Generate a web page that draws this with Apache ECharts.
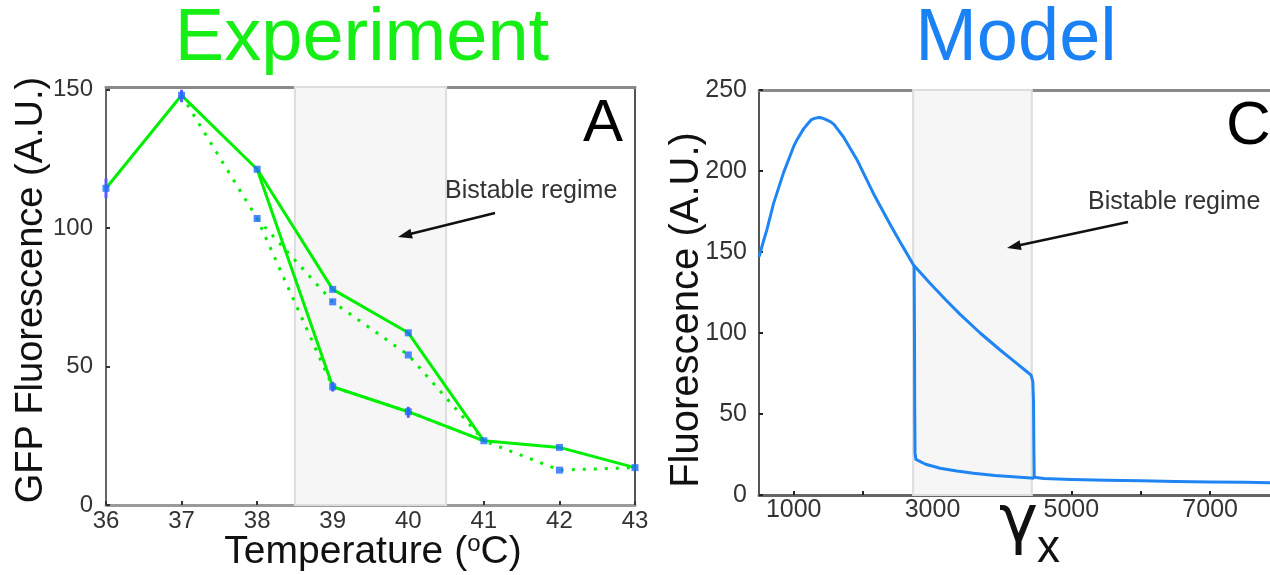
<!DOCTYPE html>
<html>
<head>
<meta charset="utf-8">
<script src="https://cdn.jsdelivr.net/npm/echarts@6/dist/echarts.min.js"></script>
<style>
html,body{margin:0;padding:0;background:#fff;}
#chart{width:1270px;height:575px;}
</style>
</head>
<body>
<div id="chart"></div>
<script>
// ---------------- DATA ----------------
// Experiment panel (temperature in °C, GFP fluorescence in A.U.)
const tempTicks = [36, 37, 38, 39, 40, 41, 42, 43];
const fluorTicks = [0, 50, 100, 150];
const solidUpperT = [36, 37, 38, 39, 40, 41, 42, 43];
const solidUpperF = [114.4, 148, 121.3, 77.9, 62.2, 23.2, 20.8, 13.5];
const solidLowerT = [38, 39, 40, 41];
const solidLowerF = [121.3, 42.7, 33.7, 23.2];
const dottedLowerT = [37, 38, 39, 40, 41, 42, 43];
const dottedLowerF = [148, 103.5, 42.7, 33.7, 23.2, 12.6, 13.5];
const dottedUpperT = [38, 39, 40, 41];
const dottedUpperF = [103.5, 73.4, 54.2, 23.2];
const markerT = [36, 37, 38, 38, 39, 39, 39, 40, 40, 40, 41, 42, 42, 43];
const markerF = [114.4, 148, 121.3, 103.5, 77.9, 73.4, 42.7, 62.2, 54.2, 33.7, 23.2, 20.8, 12.6, 13.5];
const errT  = [36, 37, 39, 40];
const errLo = [110.8, 145.5, 41, 31.5];
const errHi = [118, 150, 44.5, 35.5];
const bandExperiment = [38.5, 40.5];

// Model panel (gamma_x, fluorescence in A.U.)
const gammaTicks = [1000, 2000, 3000, 4000, 5000, 6000, 7000];
const gammaLabels = [1000, 3000, 5000, 7000];
const modelFluorTicks = [0, 50, 100, 150, 200, 250];
const upperGamma = [500, 560, 615, 710, 854, 998, 1050, 1142, 1200, 1250, 1300, 1358, 1400, 1450, 1527, 1580, 1620, 1718, 1911, 2150, 2390, 2535, 2631, 2726, 2967, 3182, 3398, 3686, 3974, 4190, 4334, 4420, 4445, 4455, 4460, 4465, 4600, 5000, 5500, 6000, 6500, 7000, 7500, 7862];
const upperF     = [147, 156, 164, 180, 199, 215, 219.5, 226, 229, 231.5, 232.5, 233, 232.8, 232, 230.5, 228.8, 226.5, 221, 207, 186, 167, 156, 149, 142, 130.5, 120.8, 111.5, 100, 89.5, 82, 77, 74, 70, 58, 30, 11, 10.2, 9.6, 9.1, 8.8, 8.3, 8, 7.8, 7.6];
const lowerGamma = [2735, 2740, 2744, 2748, 2760, 2900, 3110, 3350, 3590, 3900, 4262, 4465];
const lowerF     = [142, 100, 50, 26, 22, 19, 16.5, 14.8, 13.4, 12, 10.9, 10.3];
const bandModel = [2720, 4430];

// ---------------- HELPERS ----------------
const zip = (a, b) => a.map((v, i) => [v, b[i]]);
const FONT = '"Liberation Sans", Arial, Helvetica, sans-serif';
const GREEN = '#00f000';
const BLUE_MARK = '#1f6bff';
const BLUE_LINE = '#1f85f2';

const chart = echarts.init(document.getElementById('chart'), null, {renderer: 'canvas'});

const bandStyle = {color: '#f6f6f7', borderColor: '#dddddd', borderWidth: 2};

const option = {
  animation: false,
  backgroundColor: '#ffffff',
  grid: [
    {left: 106, top: 87, width: 529, height: 418},
    {left: 759, top: 90, width: 511, height: 405}
  ],
  xAxis: [
    {
      gridIndex: 0, type: 'value', min: 36, max: 43, interval: 1, position: 'bottom',
      axisLine: {show: true, onZero: false, lineStyle: {color: '#9a9a9a', width: 3}},
      axisTick: {show: true, inside: true, length: 4, lineStyle: {color: '#333', width: 2}},
      axisLabel: {fontSize: 24, color: '#333', margin: 4, fontFamily: FONT},
      splitLine: {show: false}
    },
    {
      gridIndex: 0, type: 'value', min: 36, max: 43, position: 'top',
      axisLine: {show: true, onZero: false, lineStyle: {color: '#8a8a8a', width: 3}},
      axisTick: {show: false}, axisLabel: {show: false}, splitLine: {show: false}
    },
    {
      gridIndex: 1, type: 'value', min: 500, max: 7862, position: 'bottom',
      axisLine: {show: true, onZero: false, lineStyle: {color: '#666', width: 3}},
      axisTick: {show: true, inside: true, length: 4, customValues: gammaTicks, lineStyle: {color: '#222', width: 2}},
      axisLabel: {fontSize: 25, color: '#333', margin: 3, fontFamily: FONT, customValues: gammaLabels,
        formatter: function (v) { return String(Math.round(v)); }},
      splitLine: {show: false}
    },
    {
      gridIndex: 1, type: 'value', min: 500, max: 7862, position: 'top',
      axisLine: {show: true, onZero: false, lineStyle: {color: '#8a8a8a', width: 3}},
      axisTick: {show: false}, axisLabel: {show: false}, splitLine: {show: false}
    }
  ],
  yAxis: [
    {
      gridIndex: 0, type: 'value', min: 0, max: 151, position: 'left',
      axisLine: {show: true, onZero: false, lineStyle: {color: '#666', width: 2}},
      axisTick: {show: true, inside: true, length: 4, customValues: fluorTicks, lineStyle: {color: '#333', width: 2}},
      axisLabel: {fontSize: 24, color: '#333', margin: 13, fontFamily: FONT, customValues: fluorTicks},
      splitLine: {show: false}
    },
    {
      gridIndex: 0, type: 'value', min: 0, max: 151, position: 'right',
      axisLine: {show: true, onZero: false, lineStyle: {color: '#555', width: 2}},
      axisTick: {show: false}, axisLabel: {show: false}, splitLine: {show: false}
    },
    {
      gridIndex: 1, type: 'value', min: 0, max: 250, interval: 50, position: 'left',
      axisLine: {show: true, onZero: false, lineStyle: {color: '#555', width: 2}},
      axisTick: {show: true, inside: true, length: 4, lineStyle: {color: '#222', width: 2}},
      axisLabel: {fontSize: 25, color: '#333', margin: 12, fontFamily: FONT},
      splitLine: {show: false}
    }
  ],
  series: [
    {
      name: 'band-exp', type: 'line', xAxisIndex: 0, yAxisIndex: 0, data: [], silent: true,
      markArea: {silent: true, itemStyle: bandStyle, data: [[{xAxis: bandExperiment[0]}, {xAxis: bandExperiment[1]}]]}
    },
    {
      name: 'dotted-lower', type: 'line', xAxisIndex: 0, yAxisIndex: 0, data: zip(dottedLowerT, dottedLowerF),
      symbol: 'none', lineStyle: {color: GREEN, width: 3, type: [3, 8], cap: 'butt'}, z: 3
    },
    {
      name: 'dotted-upper', type: 'line', xAxisIndex: 0, yAxisIndex: 0, data: zip(dottedUpperT, dottedUpperF),
      symbol: 'none', lineStyle: {color: GREEN, width: 3, type: [3, 8], cap: 'butt'}, z: 3
    },
    {
      name: 'solid-upper', type: 'line', xAxisIndex: 0, yAxisIndex: 0, data: zip(solidUpperT, solidUpperF),
      symbol: 'none', lineStyle: {color: GREEN, width: 3}, z: 4
    },
    {
      name: 'solid-lower', type: 'line', xAxisIndex: 0, yAxisIndex: 0, data: zip(solidLowerT, solidLowerF),
      symbol: 'none', lineStyle: {color: GREEN, width: 3}, z: 4
    },
    {
      name: 'err', type: 'custom', xAxisIndex: 0, yAxisIndex: 0, z: 5,
      data: errT.map((t, i) => [t, errLo[i], errHi[i]]),
      renderItem: function (params, api) {
        const p0 = api.coord([api.value(0), api.value(1)]);
        const p1 = api.coord([api.value(0), api.value(2)]);
        return {type: 'line', shape: {x1: p0[0], y1: p0[1], x2: p1[0], y2: p1[1]}, style: {stroke: '#5a5aff', lineWidth: 3}};
      }
    },
    {
      name: 'markers', type: 'scatter', xAxisIndex: 0, yAxisIndex: 0, data: zip(markerT, markerF),
      symbol: 'rect', symbolSize: [7, 7], itemStyle: {color: BLUE_MARK}, z: 6
    },
    {
      name: 'band-model', type: 'line', xAxisIndex: 2, yAxisIndex: 2, data: [], silent: true,
      markArea: {silent: true, itemStyle: bandStyle, data: [[{xAxis: bandModel[0]}, {xAxis: bandModel[1]}]]}
    },
    {
      name: 'model-upper', type: 'line', xAxisIndex: 2, yAxisIndex: 2, data: zip(upperGamma, upperF),
      symbol: 'none', lineStyle: {color: BLUE_LINE, width: 3, join: 'round'}, z: 4
    },
    {
      name: 'model-lower', type: 'line', xAxisIndex: 2, yAxisIndex: 2, data: zip(lowerGamma, lowerF),
      symbol: 'none', lineStyle: {color: BLUE_LINE, width: 3, join: 'round'}, z: 4
    }
  ],
  graphic: [
    {type: 'text', z: 100, x: 362, y: 40, style: {text: 'Experiment', fontSize: 74, fontFamily: FONT, fill: '#16ee16', align: 'center', verticalAlign: 'middle'}},
    {type: 'text', z: 100, x: 1016, y: 40, style: {text: 'Model', fontSize: 74, fontFamily: FONT, fill: '#1a82f5', align: 'center', verticalAlign: 'middle'}},
    {type: 'text', z: 100, x: 603, y: 124, style: {text: 'A', fontSize: 60, fontFamily: FONT, fill: '#000', align: 'center', verticalAlign: 'middle'}},
    {type: 'text', z: 100, x: 1226, y: 127, style: {text: 'C', fontSize: 62, fontFamily: FONT, fill: '#000', align: 'left', verticalAlign: 'middle'}},
    {type: 'text', z: 100, x: 445, y: 191, style: {text: 'Bistable regime', fontSize: 25, fontFamily: FONT, fill: '#333', align: 'left', verticalAlign: 'middle'}},
    {type: 'text', z: 100, x: 1088, y: 202, style: {text: 'Bistable regime', fontSize: 25, fontFamily: FONT, fill: '#333', align: 'left', verticalAlign: 'middle'}},
    // arrows
    {type: 'line', z: 100, shape: {x1: 495, y1: 213, x2: 408, y2: 234.5}, style: {stroke: '#111', lineWidth: 2.5}},
    {type: 'polygon', z: 100, shape: {points: [[398, 237], [412.8, 238.5], [410.4, 228.8]]}, style: {fill: '#111'}},
    {type: 'line', z: 100, shape: {x1: 1128, y1: 222, x2: 1017, y2: 245.8}, style: {stroke: '#111', lineWidth: 2.5}},
    {type: 'polygon', z: 100, shape: {points: [[1007, 248], [1021.7, 250], [1019.6, 240.2]]}, style: {fill: '#111'}},
    // axis titles
    {type: 'text', z: 100, x: 31.5, y: 290, rotation: Math.PI / 2, style: {text: 'GFP Fluorescence (A.U.)', fontSize: 38, fontFamily: FONT, fill: '#111', align: 'center', verticalAlign: 'middle'}},
    {type: 'text', z: 100, x: 373, y: 552, style: {text: 'Temperature ({sup|o}C)', fontSize: 39, fontFamily: FONT, fill: '#111', align: 'center', verticalAlign: 'middle',
      rich: {sup: {fontSize: 24, fontFamily: FONT, fill: '#111', verticalAlign: 'top'}}}},
    {type: 'text', z: 100, x: 687, y: 310, rotation: Math.PI / 2, style: {text: 'Fluorescence (A.U.)', fontSize: 40, fontFamily: FONT, fill: '#111', align: 'center', verticalAlign: 'middle'}},
    {type: 'text', z: 100, x: 999, y: 524, style: {text: 'γ', fontSize: 66, fontFamily: '"DejaVu Sans", sans-serif', fill: '#111', align: 'left', verticalAlign: 'middle'}},
    {type: 'text', z: 100, x: 1037, y: 549, style: {text: 'x', fontSize: 46, fontFamily: FONT, fill: '#111', align: 'left', verticalAlign: 'middle'}}
  ]
};

chart.setOption(option);
</script>
</body>
</html>
